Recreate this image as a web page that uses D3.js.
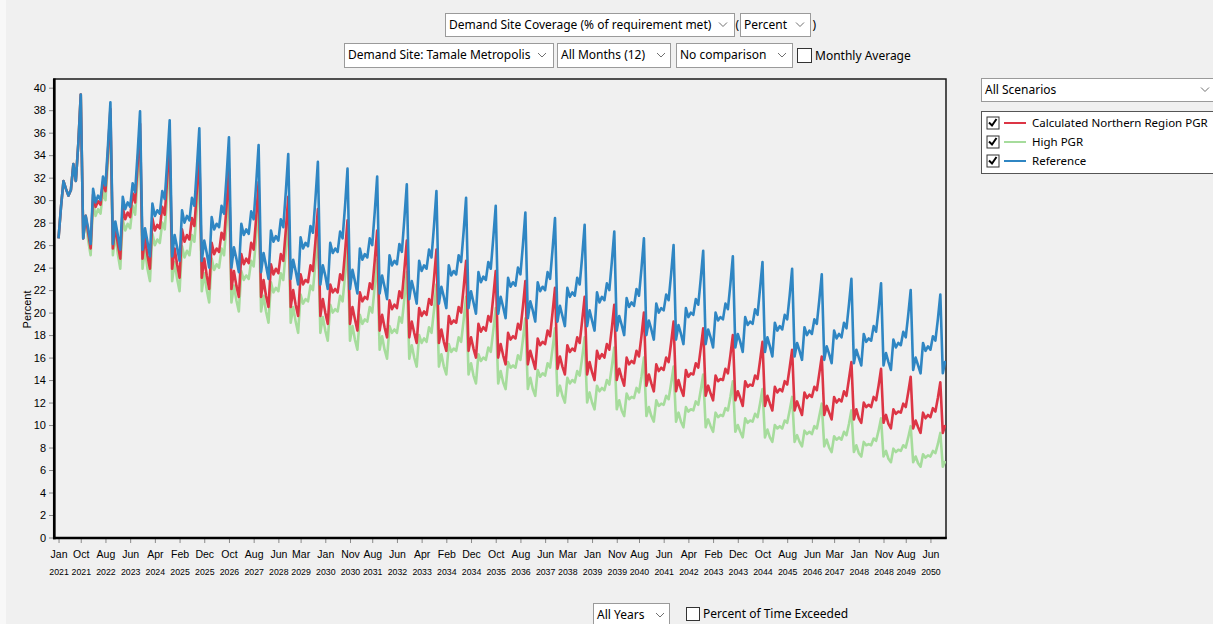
<!DOCTYPE html>
<html>
<head>
<meta charset="utf-8">
<script src="https://cdn.jsdelivr.net/npm/d3@7"></script>
<style>
  html, body { margin: 0; padding: 0; background: #f0f0f0; }
  svg { display: block; }
  .ui { font-family: "Noto Sans", "Open Sans", sans-serif; font-size: 12px; fill: #000; }
</style>
</head>
<body>
<svg id="chart" width="1213" height="624"></svg>
<script>
// ---------------- DATA ----------------
const monthNames = ["Jan","Feb","Mar","Apr","May","Jun","Jul","Aug","Sep","Oct","Nov","Dec"];
const startYear = 2021;
const yTicks = [0,2,4,6,8,10,12,14,16,18,20,22,24,26,28,30,32,34,36,38,40];
const xTickLabels = ["Jan 2021","Oct 2021","Aug 2022","Jun 2023","Apr 2024","Feb 2025","Dec 2025","Oct 2026",
  "Aug 2027","Jun 2028","Mar 2029","Jan 2030","Nov 2030","Aug 2031","Jun 2032","Apr 2033","Feb 2034","Dec 2034",
  "Oct 2035","Aug 2036","Jun 2037","Mar 2038","Jan 2039","Nov 2039","Aug 2040","Jun 2041","Apr 2042","Feb 2043",
  "Dec 2043","Oct 2044","Aug 2045","Jun 2046","Mar 2047","Jan 2048","Nov 2048","Aug 2049","Jun 2050"];
const seriesNames = ["Calculated Northern Region PGR","High PGR","Reference"];
const seriesColors = ["#dc3545","#a6dc9c","#2f86c3"];

// monthly values, Jan 2021 .. Dec 2050
const referenceValues = [
26.6,29.4,31.7,31.0,30.4,30.9,33.2,31.7,35.0,39.4,26.6,28.6,
27.5,26.1,31.0,29.8,30.4,30.0,32.1,31.3,34.8,38.7,26.1,28.1,
26.9,25.6,30.3,29.2,29.8,29.4,31.5,30.7,34.1,37.9,25.6,27.5,
26.3,25.0,29.7,28.6,29.1,28.8,30.8,30.1,33.4,37.1,25.0,26.9,
25.8,24.6,29.1,28.0,28.6,28.2,30.2,29.5,32.8,36.4,24.6,26.4,
25.3,24.0,28.5,27.4,27.9,27.6,29.5,28.8,32.0,35.6,24.0,25.8,
24.8,23.6,27.9,26.9,27.4,27.0,29.0,28.3,31.4,34.9,23.6,25.3,
24.2,23.0,27.3,26.3,26.8,26.4,28.3,27.6,30.7,34.1,23.0,24.7,
23.7,22.5,26.7,25.7,26.2,25.9,27.7,27.1,30.1,33.4,22.5,24.2,
23.3,22.1,26.2,25.3,25.7,25.4,27.2,26.6,29.5,32.8,22.1,23.8,
22.8,21.7,25.7,24.7,25.2,24.9,26.6,26.0,28.9,32.1,21.7,23.3,
22.3,21.2,25.1,24.2,24.6,24.3,26.1,25.4,28.3,31.4,21.2,22.8,
21.9,20.8,24.6,23.7,24.2,23.9,25.6,24.9,27.7,30.8,20.8,22.3,
21.4,20.4,24.2,23.3,23.7,23.4,25.1,24.5,27.2,30.2,20.4,21.9,
20.9,19.9,23.6,22.7,23.2,22.9,24.5,23.9,26.6,29.5,19.9,21.4,
20.5,19.5,23.1,22.3,22.7,22.4,24.0,23.4,26.0,28.9,19.5,21.0,
20.2,19.2,22.7,21.9,22.3,22.0,23.6,23.0,25.6,28.4,19.2,20.6,
19.7,18.8,22.2,21.4,21.8,21.5,23.1,22.5,25.0,27.8,18.8,20.2,
19.3,18.4,21.8,20.9,21.4,21.1,22.6,22.0,24.5,27.2,18.4,19.7,
18.9,18.0,21.3,20.5,20.9,20.6,22.1,21.5,23.9,26.6,18.0,19.3,
18.5,17.6,20.8,20.0,20.4,20.2,21.6,21.1,23.4,26.0,17.6,18.9,
18.1,17.2,20.4,19.6,20.0,19.8,21.2,20.7,23.0,25.5,17.2,18.5,
17.8,16.9,20.0,19.3,19.6,19.4,20.8,20.3,22.5,25.0,16.9,18.1,
17.4,16.5,19.6,18.9,19.2,19.0,20.3,19.8,22.1,24.5,16.5,17.8,
17.0,16.1,19.1,18.4,18.8,18.5,19.8,19.4,21.5,23.9,16.1,17.3,
16.6,15.8,18.7,18.0,18.4,18.1,19.4,19.0,21.1,23.4,15.8,17.0,
16.3,15.5,18.4,17.7,18.1,17.8,19.1,18.6,20.7,23.0,15.5,16.7,
16.0,15.3,18.1,17.4,17.7,17.5,18.8,18.3,20.3,22.6,15.3,16.4,
15.6,14.9,17.6,16.9,17.3,17.1,18.3,17.8,19.8,22.0,14.9,16.0,
15.3,14.6,17.3,16.6,17.0,16.7,17.9,17.5,19.4,21.6,14.6,15.7
];
const calculatedValues = [
26.6,29.4,31.7,31.0,30.4,30.9,33.2,31.7,35.0,39.4,26.6,28.6,
27.1,25.7,30.5,29.4,29.9,29.6,31.6,30.8,34.3,38.1,25.7,27.7,
26.1,24.8,29.4,28.3,28.9,28.5,30.6,29.8,33.1,36.8,24.8,26.7,
25.1,23.9,28.4,27.3,27.8,27.5,29.4,28.7,31.9,35.4,23.9,25.7,
24.3,23.1,27.4,26.3,26.9,26.5,28.4,27.7,30.8,34.2,23.1,24.8,
23.3,22.1,26.2,25.2,25.7,25.4,27.1,26.5,29.4,32.8,22.1,23.7,
22.4,21.4,25.2,24.3,24.8,24.4,26.2,25.6,28.4,31.6,21.4,22.9,
21.5,20.5,24.3,23.4,23.9,23.5,25.2,24.6,27.3,30.3,20.5,22.0,
20.7,19.7,23.4,22.5,22.9,22.7,24.2,23.7,26.3,29.2,19.7,21.2,
20.0,19.0,22.5,21.8,22.1,21.8,23.4,22.9,25.4,28.2,19.0,20.5,
19.4,18.4,21.8,21.0,21.4,21.2,22.6,22.1,24.6,27.3,18.4,19.8,
18.7,17.8,21.1,20.3,20.7,20.4,21.9,21.3,23.8,26.4,17.8,19.2,
18.2,17.3,20.4,19.7,20.1,19.8,21.2,20.7,23.0,25.6,17.3,18.5,
17.4,16.6,19.7,19.0,19.3,19.1,20.5,20.0,22.2,24.6,16.6,17.8,
16.8,16.0,19.0,18.3,18.7,18.4,19.7,19.2,21.4,23.7,16.0,17.2,
16.2,15.4,18.2,17.6,17.9,17.7,19.0,18.5,20.5,22.8,15.4,16.6,
15.8,15.0,17.7,17.1,17.4,17.2,18.4,17.9,20.0,22.2,15.0,16.1,
15.2,14.5,17.1,16.5,16.8,16.6,17.8,17.3,19.3,21.4,14.5,15.6,
14.7,14.0,16.6,15.9,16.3,16.0,17.2,16.7,18.6,20.7,14.0,15.0,
14.2,13.5,16.0,15.4,15.7,15.5,16.6,16.1,17.9,20.0,13.5,14.5,
13.7,13.0,15.4,14.8,15.1,14.9,16.0,15.6,17.3,19.2,13.0,14.0,
13.2,12.6,14.9,14.3,14.6,14.5,15.5,15.1,16.8,18.6,12.6,13.5,
12.8,12.2,14.4,13.9,14.1,14.0,15.0,14.6,16.2,18.0,12.2,13.0,
12.4,11.7,13.9,13.4,13.6,13.5,14.4,14.1,15.7,17.4,11.7,12.6,
11.9,11.3,13.4,12.9,13.2,13.0,13.9,13.6,15.1,16.7,11.3,12.1,
11.5,10.9,12.9,12.4,12.7,12.5,13.4,13.1,14.6,16.1,10.9,11.7,
11.1,10.5,12.5,12.0,12.3,12.1,13.0,12.6,14.1,15.6,10.5,11.4,
10.6,10.2,12.0,11.6,11.8,11.6,12.5,12.2,13.5,15.0,10.2,10.9,
10.1,9.7,11.4,11.0,11.2,11.1,11.9,11.6,12.9,14.3,9.7,10.4,
9.8,9.3,11.1,10.6,10.9,10.7,11.5,11.2,12.4,13.8,9.3,10.0
];
const highPgrValues = [
26.6,29.4,31.7,31.0,30.4,30.9,33.2,31.7,35.0,39.4,26.6,28.6,
26.4,25.1,29.8,28.6,29.2,28.8,30.8,30.0,33.4,37.2,25.1,27.0,
25.2,23.9,28.3,27.3,27.9,27.5,29.5,28.7,31.9,35.4,23.9,25.7,
23.9,22.8,27.0,26.0,26.5,26.2,28.0,27.4,30.4,33.8,22.8,24.5,
23.0,21.9,25.9,24.9,25.5,25.1,26.9,26.3,29.2,32.4,21.9,23.5,
22.0,20.9,24.8,23.8,24.3,24.0,25.7,25.1,27.8,31.0,20.9,22.4,
21.1,20.1,23.7,22.9,23.3,23.0,24.6,24.1,26.7,29.7,20.1,21.5,
20.1,19.1,22.7,21.8,22.2,21.9,23.5,22.9,25.5,28.3,19.1,20.5,
19.2,18.2,21.6,20.8,21.2,21.0,22.4,22.0,24.4,27.1,18.2,19.6,
18.4,17.5,20.7,20.0,20.3,20.1,21.5,21.0,23.3,25.9,17.5,18.8,
17.6,16.7,19.8,19.0,19.4,19.2,20.5,20.0,22.3,24.7,16.7,17.9,
16.7,15.9,18.8,18.2,18.5,18.2,19.6,19.1,21.2,23.6,15.9,17.1,
16.0,15.2,18.0,17.3,17.7,17.4,18.7,18.2,20.2,22.5,15.2,16.3,
15.2,14.5,17.2,16.5,16.8,16.6,17.8,17.4,19.3,21.4,14.5,15.5,
14.4,13.7,16.3,15.7,16.0,15.8,16.9,16.5,18.4,20.4,13.7,14.8,
13.8,13.2,15.6,15.1,15.3,15.1,16.2,15.8,17.6,19.5,13.2,14.2,
13.2,12.6,14.9,14.3,14.6,14.4,15.5,15.1,16.8,18.6,12.6,13.5,
12.6,12.0,14.2,13.7,14.0,13.8,14.8,14.4,16.0,17.8,12.0,12.9,
12.0,11.4,13.5,13.0,13.3,13.1,14.0,13.6,15.2,16.9,11.4,12.2,
11.3,10.8,12.8,12.3,12.5,12.4,13.3,12.9,14.3,16.0,10.8,11.6,
10.8,10.3,12.2,11.7,11.9,11.8,12.6,12.3,13.7,15.2,10.3,11.1,
10.3,9.8,11.6,11.2,11.4,11.3,12.1,11.8,13.1,14.5,9.8,10.5,
9.9,9.4,11.1,10.7,10.9,10.8,11.5,11.3,12.5,13.9,9.4,10.0,
9.4,8.9,10.6,10.2,10.4,10.3,11.0,10.7,11.9,13.2,8.9,9.6,
8.9,8.5,10.0,9.7,9.9,9.7,10.4,10.2,11.3,12.5,8.5,9.1,
8.5,8.1,9.5,9.2,9.4,9.2,9.9,9.7,10.8,11.9,8.1,8.7,
8.0,7.6,9.0,8.7,8.9,8.7,9.4,9.1,10.1,11.3,7.6,8.2,
7.5,7.2,8.5,8.2,8.3,8.2,8.8,8.6,9.5,10.6,7.2,7.7,
7.0,6.7,7.9,7.6,7.8,7.7,8.2,8.0,8.9,9.9,6.7,7.2,
6.6,6.3,7.4,7.1,7.3,7.2,7.7,7.5,8.3,9.3,6.3,6.8
];

// ---------------- CHART ----------------
const svg = d3.select("#chart");
svg.append("rect").attr("x",0).attr("y",0).attr("width",1213).attr("height",624).attr("fill","#f0f0f0");
svg.append("rect").attr("x",0).attr("y",0).attr("width",6).attr("height",624).attr("fill","#f8f8f8");

const plotL = 54, plotT = 79, plotR = 946, plotB = 538;
const x = d3.scaleLinear().domain([0, 360]).range([57.3, 946.5]);
const y = d3.scaleLinear().domain([0, 40]).range([537.5, 87.7]);
const axisFont = "'Liberation Sans', Arial, sans-serif";

// clip
svg.append("defs").append("clipPath").attr("id","clip")
  .append("rect").attr("x",plotL+1).attr("y",plotT+1).attr("width",plotR-plotL-1).attr("height",plotB-plotT-1);

// frame
svg.append("rect").attr("x",plotL).attr("y",plotT).attr("width",plotR-plotL).attr("height",plotB-plotT)
  .attr("fill","none").attr("stroke","#1a1a1a").attr("stroke-width",1.5);

// series (drawn so that Reference is on top)
const series = [
  {name: seriesNames[1], color: seriesColors[1], values: highPgrValues},
  {name: seriesNames[0], color: seriesColors[0], values: calculatedValues},
  {name: seriesNames[2], color: seriesColors[2], values: referenceValues}
];
const line = d3.line().x((d,i) => x(i + 0.5)).y(d => y(d));
const g = svg.append("g").attr("clip-path","url(#clip)");
series.forEach(s => {
  g.append("path").datum(s.values).attr("d", line)
    .attr("fill","none").attr("stroke", s.color).attr("stroke-width", 2.6)
    .attr("stroke-linejoin","round");
});

// y axis
const yAxis = d3.axisLeft(y).tickValues(yTicks).tickSize(4).tickPadding(3).tickFormat(d3.format("d"));
const yg = svg.append("g").attr("transform", `translate(${plotL - 1},0)`).call(yAxis);
yg.select(".domain").remove();
yg.selectAll(".tick line").attr("stroke","#8a8a8a");
yg.selectAll(".tick text").style("font-size","11px").style("font-family",axisFont).attr("fill","#000");

// x axis
const tickMonths = xTickLabels.map(s => {
  const [m, yr] = s.split(" ");
  return (+yr - startYear) * 12 + monthNames.indexOf(m);
});
const xAxis = d3.axisBottom(x).tickValues(tickMonths.map(m => m + 0.5)).tickSize(4).tickPadding(2).tickFormat("");
const xg = svg.append("g").attr("transform", `translate(0,${plotB + 1})`).call(xAxis);
xg.select(".domain").remove();
xg.selectAll(".tick line").attr("stroke","#8a8a8a");
xg.selectAll(".tick").each(function(d, i) {
  const [m, yr] = xTickLabels[i].split(" ");
  const tick = d3.select(this);
  tick.append("text").attr("fill","#000").attr("x",0).attr("y",19)
    .style("font-family",axisFont).style("font-size","10.5px")
    .attr("text-anchor","middle").text(m);
  tick.append("text").attr("fill","#000").attr("x",0).attr("y",36)
    .style("font-family",axisFont).style("font-size","9.8px")
    .attr("text-anchor","middle")
    .attr("textLength",19.5).attr("lengthAdjust","spacingAndGlyphs").text(yr);
});

// thick axis lines
svg.append("line").attr("x1",plotL+0.3).attr("x2",plotL+0.3).attr("y1",plotT-0.5).attr("y2",plotB+1.3)
  .attr("stroke","#000").attr("stroke-width",2.7);
svg.append("line").attr("x1",plotL-1).attr("x2",plotR+0.7).attr("y1",plotB).attr("y2",plotB)
  .attr("stroke","#000").attr("stroke-width",2.7);

// y title
svg.append("text").attr("transform","translate(27,309.5) rotate(-90)")
  .attr("text-anchor","middle").attr("dy","0.35em")
  .style("font-family",axisFont).style("font-size","11px")
  .text("Percent");

// ---------------- UI CONTROLS ----------------
function chevron(cx, cy) {
  svg.append("path").attr("d", `M${cx-4},${cy-2} L${cx},${cy+2} L${cx+4},${cy-2}`)
    .attr("fill","none").attr("stroke","#707070").attr("stroke-width",1);
}
function dropdown(x0, y0, w, h, label, chevX) {
  svg.append("rect").attr("x",x0+0.5).attr("y",y0+0.5).attr("width",w).attr("height",h)
    .attr("fill","#fff").attr("stroke","#9a9a9a").attr("stroke-width",1);
  svg.append("text").attr("class","ui").attr("x",x0+4).attr("y",y0+h/2).attr("dy","0.35em").text(label);
  chevron(chevX, y0 + h/2);
}
function checkbox(x0, y0, size, checked) {
  svg.append("rect").attr("x",x0+0.5).attr("y",y0+0.5).attr("width",size).attr("height",size)
    .attr("fill","#fff").attr("stroke","#333").attr("stroke-width",1);
  if (checked) {
    svg.append("path").attr("d",`M${x0+2.5},${y0+size/2} L${x0+size/2-0.5},${y0+size-3} L${x0+size-2},${y0+2.5}`)
      .attr("fill","none").attr("stroke","#000").attr("stroke-width",2);
  }
}
function uiText(x0, cy, label, size) {
  const t = svg.append("text").attr("class","ui").attr("x",x0).attr("y",cy).attr("dy","0.35em").text(label);
  if (size) t.style("font-size", size + "px");
  return t;
}

dropdown(445, 13, 289, 23, "Demand Site Coverage (% of requirement met)", 723);
uiText(735.5, 25, "(");
dropdown(740, 13, 70, 23, "Percent", 800);
uiText(812.5, 25, ")");

dropdown(344, 43, 209, 24, "Demand Site: Tamale Metropolis", 542);
dropdown(557, 43, 113, 24, "All Months (12)", 661);
dropdown(676, 43, 116, 24, "No comparison", 782);
checkbox(797, 48, 14, false);
uiText(815, 55.5, "Monthly Average");

// scenario selector and legend
dropdown(981, 78, 240, 23, "All Scenarios", 1205);
svg.append("rect").attr("x",981.5).attr("y",111.5).attr("width",240).attr("height",62)
  .attr("fill","#fff").attr("stroke","#555").attr("stroke-width",1);
const legendRows = [
  {name: seriesNames[0], color: seriesColors[0]},
  {name: seriesNames[1], color: seriesColors[1]},
  {name: seriesNames[2], color: seriesColors[2]}
];
legendRows.forEach((r, i) => {
  const cy = 123 + i * 19;
  checkbox(986.5, cy - 6.5, 12, true);
  svg.append("line").attr("x1",1004).attr("x2",1026).attr("y1",cy).attr("y2",cy)
    .attr("stroke", r.color).attr("stroke-width",2);
  uiText(1032, cy, r.name, 11.5);
});

// bottom controls
dropdown(593, 603, 76, 24, "All Years", 660);
checkbox(686, 607, 13, false);
uiText(703, 614, "Percent of Time Exceeded");
</script>
</body>
</html>
